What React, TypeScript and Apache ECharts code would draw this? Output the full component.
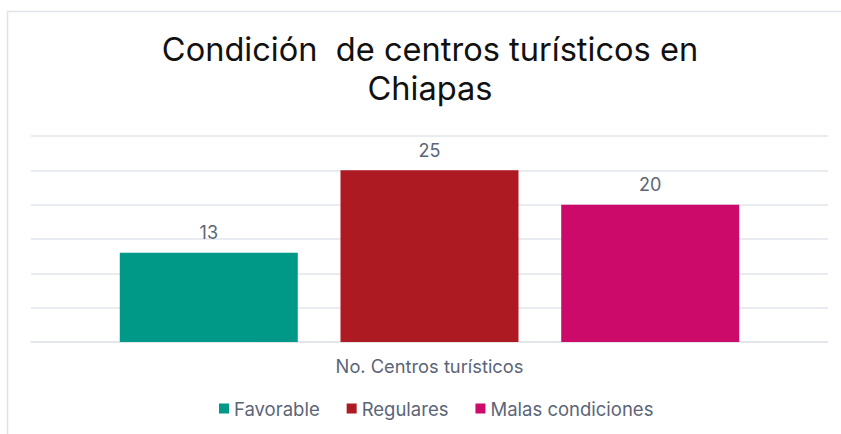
import React, { useEffect, useRef } from "react";
import * as echarts from "echarts";

const titleLines = ["Condición  de centros turísticos en", "Chiapas"];
const categories = ["No. Centros turísticos"];
const seriesNames = ["Favorable", "Regulares", "Malas condiciones"];
const seriesValues = [[13], [25], [20]];
const seriesColors = ["#009987", "#AD1A22", "#CC0A6A"];
const yMax = 30;
const yInterval = 5;

const FONT = "Inter, 'Noto Sans', sans-serif";
const TEXT = "#5b6578";
const GRID = "#e1e5ea";

export default function App() {
  const ref = useRef<HTMLDivElement>(null);
  useEffect(() => {
    if (!ref.current) return;
    const chart = echarts.init(ref.current, undefined, { renderer: "svg" });
    chart.setOption({
      animation: false,
      title: {
        text: titleLines.join("\n"),
        left: 425,
        textAlign: "center",
        top: 24,
        textStyle: { fontFamily: FONT, fontSize: 32.6, fontWeight: "normal", color: "#111", lineHeight: 39 },
      },
      graphic: [
        {
          type: "rect",
          shape: { x: 7.5, y: 11.5, width: 900, height: 500 },
          style: { fill: "none", stroke: "#dfe3e8", lineWidth: 1.5 },
          silent: true,
          z: -10,
        },
      ],
      legend: {
        bottom: 11,
        left: 214,
        itemWidth: 10,
        itemHeight: 10,
        itemGap: 27,
        icon: "rect",
        textStyle: { fontFamily: FONT, fontSize: 18.5, color: TEXT },
        data: seriesNames,
      },
      grid: { left: 31, right: 13, top: 136, bottom: 92, containLabel: false },
      xAxis: {
        type: "category",
        data: categories,
        axisLine: { show: true, lineStyle: { color: GRID, width: 1.5 } },
        axisTick: { show: false },
        axisLabel: { fontFamily: FONT, fontSize: 18.3, color: TEXT, margin: 15 },
      },
      yAxis: {
        type: "value",
        min: 0,
        max: yMax,
        interval: yInterval,
        axisLabel: { show: false },
        axisLine: { show: false },
        axisTick: { show: false },
        splitLine: { lineStyle: { color: GRID, width: 1.5 } },
      },
      series: seriesNames.map((name, i) => ({
        name,
        type: "bar",
        data: seriesValues[i],
        barWidth: 178,
        barGap: "24%",
        itemStyle: { color: seriesColors[i] },
        label: {
          show: true,
          position: "top",
          distance: 11,
          fontFamily: FONT,
          fontSize: 18,
          color: TEXT,
        },
      })),
    });
    return () => chart.dispose();
  }, []);
  return (
    <div
      ref={ref}
      style={{ position: "fixed", left: 0, top: 0, width: 841, height: 434, background: "#fff" }}
    />
  );
}
